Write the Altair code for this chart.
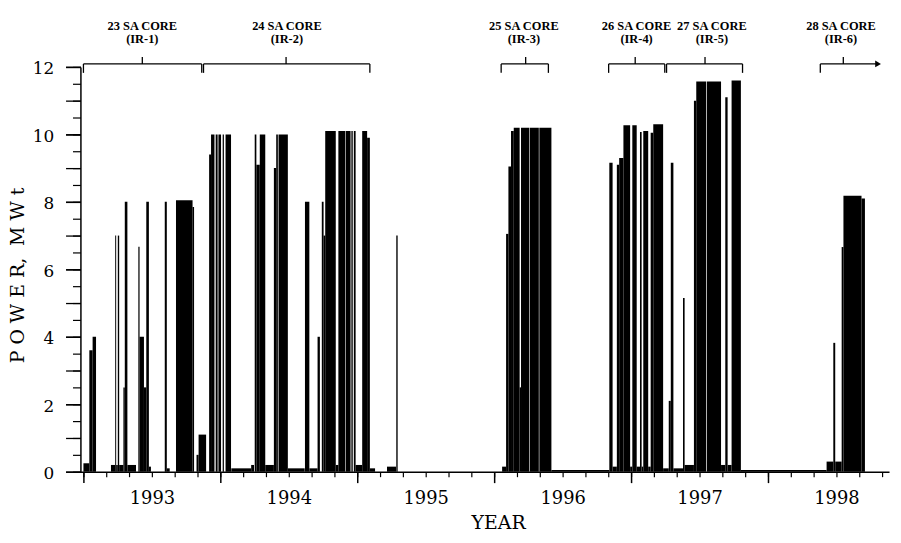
import altair as alt
import pandas as pd

# ---- reactor power history: operating periods (decimal year) and power (MWt)
run_start = [
    1993.000, 1993.043, 1993.067, 1993.201, 1993.232, 1993.239, 1993.251, 1993.261,
    1993.292, 1993.302, 1993.321, 1993.401, 1993.410, 1993.442, 1993.459, 1993.478,
    1993.594, 1993.609, 1993.676, 1993.797, 1993.826, 1993.841, 1993.918, 1993.932,
    1993.966, 1993.986, 1994.017, 1994.038, 1994.080, 1994.225, 1994.251, 1994.263,
    1994.288, 1994.328, 1994.391, 1994.408, 1994.425, 1994.493, 1994.618, 1994.650,
    1994.710, 1994.741, 1994.754, 1994.766, 1994.843, 1994.862, 1994.917, 1994.957,
    1994.975, 1994.988, 1995.036, 1995.072, 1995.092, 1995.217, 1995.285,
    1996.058, 1996.087, 1996.104, 1996.123, 1996.143, 1996.186, 1996.196, 1996.260,
    1996.330, 1996.418, 1996.841, 1996.865, 1996.896, 1996.913, 1996.944, 1996.993,
    1997.009, 1997.041, 1997.065, 1997.077, 1997.089, 1997.125, 1997.143, 1997.162,
    1997.234, 1997.275, 1997.290, 1997.309, 1997.379, 1997.391, 1997.459, 1997.476,
    1997.554, 1997.657, 1997.688, 1997.705, 1997.734, 1997.802, 1998.428, 1998.477,
    1998.491, 1998.538, 1998.551, 1998.683,
]
run_end = [
    1993.043, 1993.067, 1993.092, 1993.232, 1993.239, 1993.251, 1993.261, 1993.292,
    1993.302, 1993.321, 1993.384, 1993.410, 1993.442, 1993.459, 1993.478, 1993.493,
    1993.609, 1993.630, 1993.797, 1993.808, 1993.841, 1993.896, 1993.932, 1993.957,
    1993.980, 1994.005, 1994.026, 1994.078, 1994.225, 1994.246, 1994.263, 1994.288,
    1994.328, 1994.391, 1994.408, 1994.420, 1994.493, 1994.616, 1994.650, 1994.710,
    1994.727, 1994.754, 1994.766, 1994.843, 1994.862, 1994.913, 1994.951, 1994.967,
    1994.988, 1995.036, 1995.072, 1995.092, 1995.130, 1995.283, 1995.295,
    1996.087, 1996.104, 1996.123, 1996.143, 1996.186, 1996.196, 1996.256, 1996.326,
    1996.418, 1996.841, 1996.865, 1996.896, 1996.913, 1996.944, 1996.993, 1997.009,
    1997.041, 1997.065, 1997.077, 1997.089, 1997.125, 1997.143, 1997.162, 1997.234,
    1997.275, 1997.290, 1997.309, 1997.379, 1997.391, 1997.459, 1997.476, 1997.549,
    1997.657, 1997.688, 1997.705, 1997.734, 1997.802, 1998.428, 1998.477, 1998.491,
    1998.538, 1998.551, 1998.683, 1998.708,
]
run_power = [
    0.25, 3.6, 4.0, 0.2, 7.0, 0.2, 7.0, 0.2,
    2.5, 8.0, 0.2, 6.67, 4.0, 2.5, 8.0, 0.15,
    8.0, 0.1, 8.05, 7.85, 0.5, 1.1, 9.4, 10.0,
    10.0, 10.0, 10.0, 10.0, 0.1, 0.2, 10.0, 9.1,
    10.0, 0.2, 9.0, 10.0, 10.0, 0.1, 8.0, 0.1,
    4.0, 8.0, 7.0, 10.1, 0.2, 10.1, 10.1, 10.1,
    10.1, 0.2, 10.1, 9.9, 0.1, 0.15, 7.0,
    0.15, 7.05, 9.05, 10.1, 10.2, 2.5, 10.2, 10.2,
    10.2, 0.05, 9.16, 0.15, 9.1, 9.3, 10.27, 0.15,
    10.27, 0.15, 10.07, 0.15, 10.1, 0.15, 10.05, 10.3,
    0.1, 2.1, 9.16, 0.1, 5.15, 0.2, 11.0, 11.57,
    11.57, 0.2, 11.1, 0.2, 11.6, 0.05, 0.3, 3.82,
    0.3, 6.66, 8.18, 8.1,
]

# ---- core annotations
core_names = ["23 SA CORE", "24 SA CORE", "25 SA CORE", "26 SA CORE", "27 SA CORE", "28 SA CORE"]
core_ids = ["(IR-1)", "(IR-2)", "(IR-3)", "(IR-4)", "(IR-5)", "(IR-6)"]
core_start = [1993.0, 1993.877, 1996.051, 1996.836, 1997.259, 1998.382]
core_end = [1993.864, 1995.092, 1996.396, 1997.246, 1997.814, 1998.804]
core_mid = [1993.43, 1994.48, 1996.23, 1997.03, 1997.54, 1998.55]
core_label_pos = [1993.43, 1994.486, 1996.217, 1997.04, 1997.59, 1998.533]
core_open = [False, False, False, False, False, True]

# ---- axis ticks and labels
year_ticks = [1993, 1994, 1995, 1996, 1997, 1998]
year_label_pos = [1993.5, 1994.5, 1995.5, 1996.5, 1997.5, 1998.5]
month_ticks = [1993 + i / 6 for i in range(0, 36)]
power_labels = [0, 2, 4, 6, 8, 10, 12]
power_unit_ticks = list(range(0, 13))
power_half_ticks = [i / 2 for i in range(0, 25)]

runs = pd.DataFrame({"start": run_start, "end": run_end, "power": run_power})
cores = pd.DataFrame({
    "name": core_names, "ir": core_ids, "start": core_start,
    "end": core_end, "mid": core_mid, "lab": core_label_pos, "open": core_open,
})

xscale = alt.Scale(domain=[1992.978, 1998.884], nice=False, zero=False)
yscale = alt.Scale(domain=[0, 12], nice=False, zero=True)

AX_FONT = "DejaVu Serif"
ytitle = "P\u00a0O\u00a0W\u00a0E\u00a0R,\u00a0\u00a0M\u00a0W\u00a0t"

bars = alt.Chart(runs).mark_rect(color="black", strokeWidth=0).encode(
    x=alt.X("start:Q", scale=xscale, axis=alt.Axis(
        orient="bottom", values=year_ticks, tickSize=11, tickWidth=1.5,
        labels=False, domainWidth=1.5, grid=False, title="")),
    x2="end:Q",
    y=alt.Y("power:Q", scale=yscale, axis=alt.Axis(
        orient="left", values=power_labels, tickSize=15, tickWidth=1.5,
        labelFont=AX_FONT, labelFontSize=17, labelPadding=12, labelOffset=2,
        domainWidth=1.5, grid=False, title=ytitle, titleFont=AX_FONT,
        titleFontSize=19, titleFontWeight="normal", titleAngle=270,
        titleX=-63.5, titleY=209.7, titleAlign="center", titleBaseline="middle")),
    y2=alt.datum(0),
)

ghost1 = alt.Chart(runs).mark_point(opacity=0).encode(
    x=alt.X("start:Q", scale=xscale, axis=alt.Axis(
        orient="bottom", values=month_ticks, tickSize=5, tickWidth=1.2,
        labels=False, domain=False, grid=False, title="")),
    y=alt.Y("power:Q", scale=yscale, axis=alt.Axis(
        orient="left", values=power_unit_ticks, tickSize=15, tickWidth=1.3,
        labels=False, domain=False, grid=False, title="")),
)

ghost2 = alt.Chart(runs).mark_point(opacity=0).encode(
    x=alt.X("start:Q", scale=xscale, axis=alt.Axis(
        orient="bottom", values=year_label_pos, ticks=False, tickSize=0,
        labelExpr="toString(floor(datum.value))", labelFont=AX_FONT,
        labelFontSize=18, labelPadding=18, domain=False, grid=False,
        title="YEAR", titleFont=AX_FONT, titleFontSize=19,
        titleFontWeight="normal", titleX=421, titleY=51.5,
        titleAlign="center", titleBaseline="middle")),
    y=alt.Y("power:Q", scale=yscale, axis=alt.Axis(
        orient="left", values=power_half_ticks, tickSize=8, tickWidth=1.2,
        labels=False, domain=False, grid=False, title="")),
)

cbase = alt.Chart(cores)
bracket = cbase.mark_rule(color="black", strokeWidth=1.3).encode(
    x=alt.X("start:Q", scale=xscale, axis=None), x2="end:Q", y=alt.value(-3))
drop_l = cbase.mark_rule(color="black", strokeWidth=1.3).encode(
    x=alt.X("start:Q", scale=xscale, axis=None), y=alt.value(-3), y2=alt.value(6))
drop_r = cbase.transform_filter("!datum.open").mark_rule(color="black", strokeWidth=1.3).encode(
    x=alt.X("end:Q", scale=xscale, axis=None), y=alt.value(-3), y2=alt.value(6))
mid_tick = cbase.mark_rule(color="black", strokeWidth=1.3).encode(
    x=alt.X("mid:Q", scale=xscale, axis=None), y=alt.value(-10), y2=alt.value(-3))
arrow = cbase.transform_filter("datum.open").mark_point(
    shape="triangle-right", filled=True, color="black", size=45, opacity=1).encode(
    x=alt.X("end:Q", scale=xscale, axis=None), y=alt.value(-3))
label1 = cbase.mark_text(font="Liberation Serif", fontWeight="bold", fontSize=12.5,
                         color="black", align="center", baseline="middle").encode(
    x=alt.X("lab:Q", scale=xscale, axis=None), y=alt.value(-41), text="name:N")
label2 = cbase.mark_text(font="Liberation Serif", fontWeight="bold", fontSize=12.5,
                         color="black", align="center", baseline="middle").encode(
    x=alt.X("lab:Q", scale=xscale, axis=None), y=alt.value(-28), text="ir:N")

chart = alt.layer(
    bars, ghost1, ghost2, bracket, drop_l, drop_r, mid_tick, arrow, label1, label2
).resolve_axis(x="independent", y="independent").properties(
    width=815, height=408,
    autosize=alt.AutoSizeParams(type="none"),
    padding={"left": 73, "top": 57.3, "right": 4, "bottom": 59.7},
    background="white",
).configure_axis(
    domainColor="black", tickColor="black", labelColor="black", titleColor="black",
).configure_view(strokeWidth=0)

chart.save("out.html", embed_options={"renderer": "svg", "actions": False})
